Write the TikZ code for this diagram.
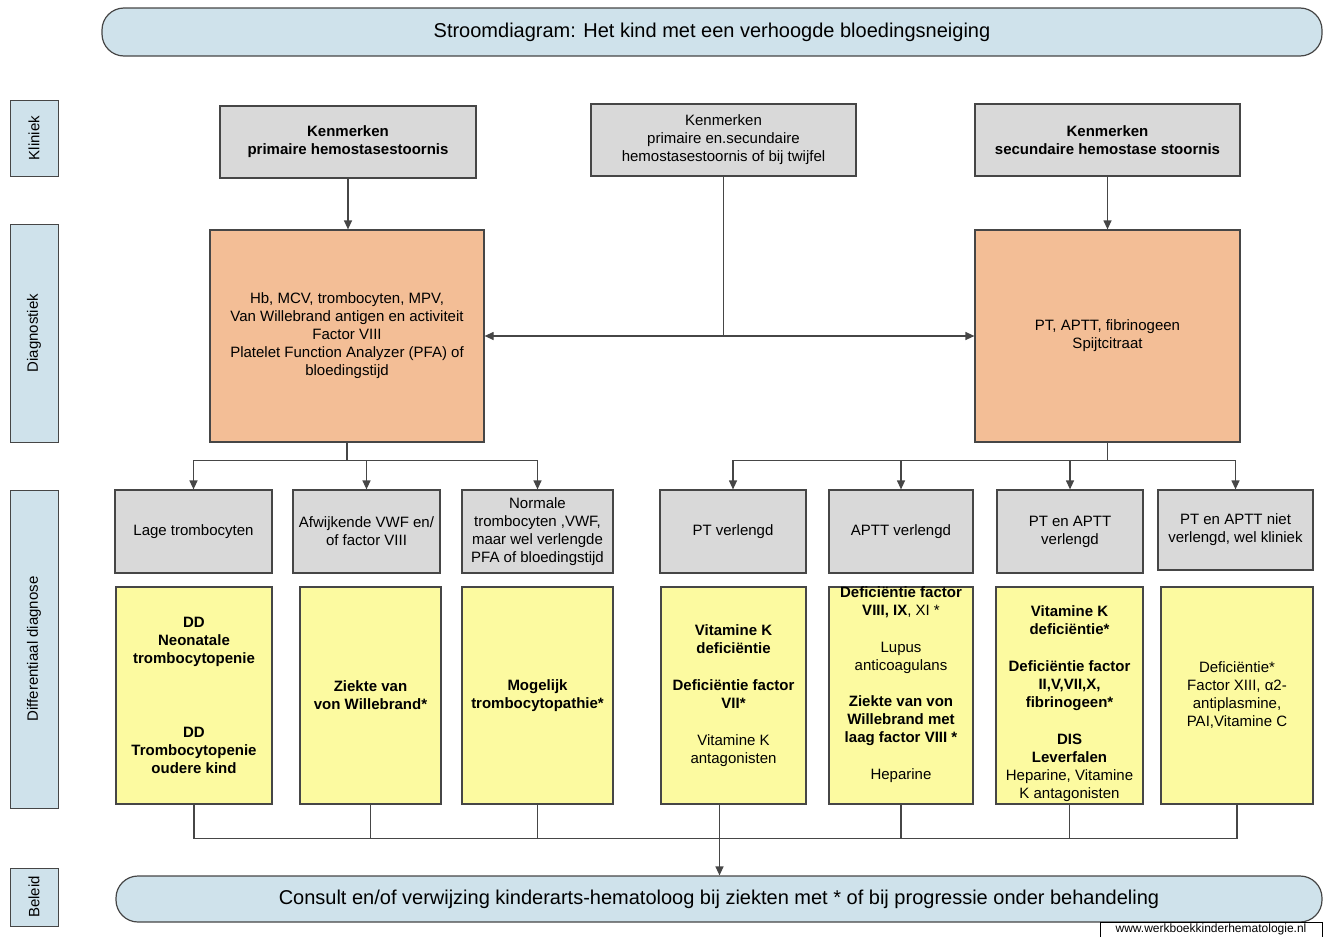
\documentclass[tikz,border=0pt]{standalone}
\usepackage{fontspec}
\setmainfont{Liberation Sans}
\usetikzlibrary{arrows.meta}
\definecolor{kopblauw}{RGB}{207,226,235}
\definecolor{kadergrijs}{RGB}{217,217,217}
\definecolor{diagoranje}{RGB}{243,190,150}
\definecolor{ddgeel}{RGB}{252,250,160}
\definecolor{lijngrijs}{RGB}{70,70,70}

\begin{document}
\begin{tikzpicture}[x=1pt,y=-1pt,%y naar beneden, zoals in de schets
        every node/.style={align=center,font=\fontsize{15}{18}\selectfont},
        vet/.style={font=\fontsize{15}{18}\selectfont\bfseries},
        kop/.style={draw=lijngrijs,line width=1.2pt,fill=kopblauw,rounded corners=22pt,font=\fontsize{20}{24}\selectfont},%titel en beleid
        zij/.style={draw=lijngrijs,line width=1pt,fill=kopblauw,rotate=90,minimum height=48pt,font=\fontsize{15}{18}\selectfont},%labels links
        klin/.style={draw=lijngrijs,line width=1.2pt,fill=kadergrijs,minimum width=256pt,minimum height=72pt},
        diag/.style={draw=lijngrijs,line width=1.2pt,fill=diagoranje,minimum width=274pt,minimum height=212pt},
        uitslag/.style={draw=lijngrijs,line width=1.2pt,fill=kadergrijs,minimum height=83pt},
        dd/.style={draw=lijngrijs,line width=1.2pt,fill=ddgeel,minimum height=217pt},
        lijn/.style={draw=lijngrijs,line width=1.2pt},
        pijl/.style={lijn,-{Triangle[width=8pt,length=9pt]}}]
    \useasboundingbox (0,0) rectangle (1328,937);

    \node (titel) at (712,32) [kop,minimum width=1220pt,minimum height=48pt] {Stroomdiagram: Het kind met een verhoogde bloedingsneiging};

    \node (kliniek) at (34,138) [zij,minimum width=76pt] {Kliniek};
    \node (diagnostiek) at (34,333) [zij,minimum width=218pt] {Diagnostiek};
    \node (ddlabel) at (34,649) [zij,minimum width=318pt] {Differentiaal diagnose};
    \node (beleid) at (34,897) [zij,minimum width=58pt] {Beleid};

    % kliniek
    \node (kprim) at (348,142) [klin,vet] {Kenmerken\\primaire hemostasestoornis};
    \node (kmid) at (723.5,140) [klin,minimum width=265pt] {Kenmerken\\primaire en.secundaire\\hemostasestoornis of bij twijfel};
    \node (ksec) at (1107.5,140) [klin,vet,minimum width=265pt] {Kenmerken\\secundaire hemostase stoornis};

    % diagnostiek
    \node (dprim) at (347,336) [diag] {Hb, MCV, trombocyten, MPV,\\Van Willebrand antigen en activiteit\\Factor VIII\\Platelet Function Analyzer (PFA) of\\bloedingstijd};
    \node (dsec) at (1107.5,336) [diag,minimum width=265pt] {PT, APTT, fibrinogeen\\Spijtcitraat};

    % uitslagen
    \node (g1) at (193.5,531.5) [uitslag,minimum width=157pt] {Lage trombocyten};
    \node (g2) at (366.5,531.5) [uitslag,minimum width=147pt] {Afwijkende VWF en/\\of factor VIII};
    \node (g3) at (537.5,531.5) [uitslag,minimum width=151pt] {Normale\\trombocyten ,VWF,\\maar wel verlengde\\PFA of bloedingstijd};
    \node (g4) at (733,531.5) [uitslag,minimum width=146pt] {PT verlengd};
    \node (g5) at (901,531.5) [uitslag,minimum width=144pt] {APTT verlengd};
    \node (g6) at (1070,531.5) [uitslag,minimum width=146pt] {PT en APTT\\verlengd};
    \node (g7) at (1235.5,530) [uitslag,minimum width=155pt,minimum height=80pt] {PT en APTT niet\\verlengd, wel kliniek};

    % differentiaal diagnose
    \node (y1) at (194,695.5) [dd,vet,minimum width=156pt] {DD\\Neonatale\\trombocytopenie\\[56pt]DD\\Trombocytopenie\\oudere kind};
    \node (y2) at (370.5,695.5) [dd,vet,minimum width=141pt] {Ziekte van\\von Willebrand*};
    \node (y3) at (537.5,695.5) [dd,vet,minimum width=151pt] {Mogelijk\\trombocytopathie*};
    \node (y4) at (733.5,695.5) [dd,minimum width=145pt] {\textbf{Vitamine K}\\\textbf{deficiëntie}\\[19pt]\textbf{Deficiëntie factor}\\\textbf{VII*}\\[19pt]Vitamine K\\antagonisten};
    \node (y5) at (901,695.5) [dd,minimum width=144pt] {};
    \node (y5tekst) at ([yshift=10.5pt]y5.center) {\textbf{Deficiëntie factor}\\\textbf{VIII, IX}, XI *\\[19pt]Lupus\\anticoagulans\\[18pt]\textbf{Ziekte van von}\\\textbf{Willebrand met}\\\textbf{laag factor VIII *}\\[19pt]Heparine};
    \node (y6) at (1069.5,695.5) [dd,minimum width=147pt] {};
    \node (y6tekst) at ([yshift=-8pt]y6.center) {\textbf{Vitamine K}\\\textbf{deficiëntie*}\\[19pt]\textbf{Deficiëntie factor}\\\textbf{II,V,VII,X,}\\\textbf{fibrinogeen*}\\[19pt]\textbf{DIS}\\\textbf{Leverfalen}\\Heparine, Vitamine\\K antagonisten};
    \node (y7) at (1237,695.5) [dd,minimum width=152pt] {Deficiëntie*\\Factor XIII, α2-\\antiplasmine,\\PAI,Vitamine C};

    % beleid
    \node (consult) at (719,899) [kop,minimum width=1206pt,minimum height=46pt] {Consult en/of verwijzing kinderarts-hematoloog bij ziekten met * of bij progressie onder behandeling};
    \node (url) at (1211,929.5) [draw,line width=0.6pt,fill=white,minimum width=222pt,minimum height=15pt,inner sep=0.5pt,font=\fontsize{12}{13}\selectfont] {www.werkboekkinderhematologie.nl};

    % verbindingen
    \draw[pijl] (kprim) -- (kprim |- dprim.north);
    \draw[pijl] (ksec) -- (dsec);
    \draw[lijn] (kmid.south) -- (kmid.south |- dprim.east) coordinate (midden);
    \draw[pijl] (midden) -- (dprim.east);
    \draw[pijl] (midden) -- (dsec.west);

    \draw[lijn] (dprim.south) -- ++(0,18) coordinate (links);
    \foreach \g in {g1,g2,g3}
        \draw[pijl] (links) -| (\g.north);
    \draw[lijn] (dsec.south) -- ++(0,18) coordinate (rechts);
    \foreach \g in {g4,g5,g6,g7}
        \draw[pijl] (rechts) -| (\g.north);

    \draw[lijn] (y1.south) -- ++(0,34) coordinate (onder) -| (y7.south);
    \foreach \y in {y2,y3,y5,y6}
        \draw[lijn] (\y.south) -- (\y.south |- onder);
    \draw[pijl] ([xshift=-14pt]y4.south) -- ([xshift=-14pt]y4.south |- consult.north);
\end{tikzpicture}
\end{document}
